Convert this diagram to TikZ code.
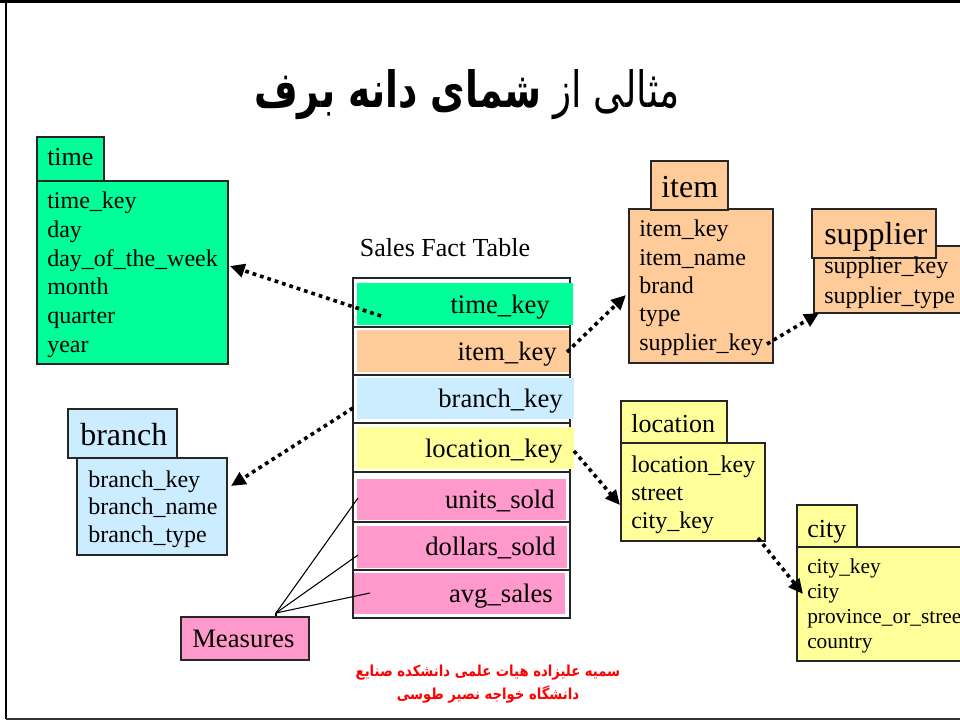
\documentclass[tikz,border=0pt]{standalone}
\usepackage{fontspec}
\setmainfont{Liberation Serif}
\newfontfamily\arabicfont[Script=Arabic]{DejaVu Sans}
\TeXXeTstate=1
\usetikzlibrary{arrows.meta,fit}
\definecolor{cgreen}{HTML}{00FF99}
\definecolor{cpeach}{HTML}{FFCC99}
\definecolor{cblue}{HTML}{CCECFF}
\definecolor{cyellow}{HTML}{FFFF99}
\definecolor{cpink}{HTML}{FF99CC}
\definecolor{cred}{HTML}{FF0000}
\tikzset{
  boxst/.style={draw=black!85, line width=1.1pt, inner sep=0pt},
  fillst/.style={inner sep=0pt, draw=none},
  hdrS/.style={anchor=base west, inner sep=0pt, font=\fontsize{19.5}{23}\selectfont},
  hdrL/.style={anchor=base west, inner sep=0pt, font=\fontsize{24}{28}\selectfont},
  fieldst/.style={anchor=base west, inner sep=0pt, font=\fontsize{18}{21.5}\selectfont},
  fieldsm/.style={anchor=base west, inner sep=0pt, font=\fontsize{16}{19}\selectfont},
  factst/.style={anchor=base east, inner sep=0pt, font=\fontsize{20}{24}\selectfont},
  link/.style={line width=2.7pt, dash pattern=on 2.8pt off 3pt, -{Triangle[length=11pt,width=10pt]}},
  mline/.style={line width=0.8pt, black}
}
\begin{document}
\begin{tikzpicture}[x=0.75pt,y=-0.75pt]
\useasboundingbox (0,0) rectangle (960,720);
\clip (0,0) rectangle (960,720);
% frame
\draw[line width=3pt] (0,1.5) -- (960,1.5);
\draw[line width=2pt] (6,0) -- (6,718.5);
\draw[line width=1.5pt, black!80] (6,718.5) -- (960,718.5);

% title
\node[font=\arabicfont\fontsize{30}{36}\selectfont, inner sep=0pt] (title) at (467,95) {\scalebox{0.94}[1.25]{\beginR مثالی از {\bfseries شمای دانه برف}\endR}};

% footer
\node[font=\arabicfont\bfseries\fontsize{9.9}{17}\selectfont, text=cred, align=center, inner sep=0pt] (footer) at (488,684) {\scalebox{1}[1.15]{\beginR سمیه علیزاده هیات علمی دانشکده صنایع\endR}\\\scalebox{1}[1.15]{\beginR دانشگاه خواجه نصیر طوسی\endR}};

% ---------- time ----------
\node[boxst, fill=cgreen, fit={(37,181)(228,364)}] (timeb) {};
\node[boxst, fill=cgreen, fit={(37,137)(104,181)}] (timet) {};
\node[hdrS] (timeh) at (47,166) {time};
\foreach \t [count=\i] in {time\_key,day,day\_of\_the\_week,month,quarter,year}
  \node[fieldst] (time\i) at (47,{209+(\i-1)*28.6}) {\t};

% ---------- item ----------
\node[boxst, fill=cpeach, fit={(629,209)(773,363)}] (itemb) {};
\node[boxst, fill=cpeach, fit={(651,161)(728,210)}] (itemt) {};
\node[hdrL] (itemh) at (661,198) {item};
\foreach \t [count=\i] in {item\_key,item\_name,brand,type,supplier\_key}
  \node[fieldst] (item\i) at (639,{237+(\i-1)*28.3}) {\t};

% ---------- supplier ----------
\node[boxst, fill=cpeach, fit={(814,246)(975,313)}] (supb) {};
\node[boxst, fill=cpeach, fit={(812,209)(936,258)}] (supt) {};
\node[hdrL] (suph) at (824,245) {supplier};
\foreach \t [count=\i] in {supplier\_key,supplier\_type}
  \node[fieldst] (sup\i) at (824,{274+(\i-1)*29}) {\t};

% ---------- branch ----------
\node[boxst, fill=cblue, fit={(77,458)(227,555)}] (branchb) {};
\node[boxst, fill=cblue, fit={(68,409)(177,458)}] (brancht) {};
\node[hdrL] (branchh) at (80,445) {branch};
\foreach \t [count=\i] in {branch\_key,branch\_name,branch\_type}
  \node[fieldst] (branch\i) at (88,{487+(\i-1)*27.5}) {\t};

% ---------- location ----------
\node[boxst, fill=cyellow, fit={(621,443)(765,541)}] (locb) {};
\node[boxst, fill=cyellow, fit={(621,401)(727,443)}] (loct) {};
\node[hdrS] (loch) at (631,432) {location};
\foreach \t [count=\i] in {location\_key,street,city\_key}
  \node[fieldst] (loc\i) at (631,{472+(\i-1)*28}) {\t};

% ---------- city ----------
\node[boxst, fill=cyellow, fit={(797,547)(975,661)}] (cityb) {};
\node[boxst, fill=cyellow, fit={(797,505)(857,547)}] (cityt) {};
\node[hdrS] (cityh) at (807,537) {city};
\foreach \t [count=\i] in {city\_key,city,province\_or\_street,country}
  \node[fieldsm] (city\i) at (807,{573+(\i-1)*25.2}) {\t};

% ---------- fact table ----------
\node[font=\fontsize{19.5}{23}\selectfont, anchor=base, inner sep=0pt] (facttitle) at (445,257) {Sales Fact Table};
\node[boxst, fit={(353,278)(570,327)}] (r1) {};
\node[boxst, fit={(353,327)(570,375)}] (r2) {};
\node[boxst, fit={(353,375)(570,423)}] (r3) {};
\node[boxst, fit={(353,423)(570,472)}] (r4) {};
\node[boxst, fit={(353,472)(570,522)}] (r5) {};
\node[boxst, fit={(353,522)(570,570)}] (r6) {};
\node[boxst, fit={(353,570)(570,618)}] (r7) {};
\node[fillst, fill=cgreen, fit={(357,283)(573,325)}] (f1) {};
\node[fillst, fill=cpeach, fit={(357,330)(569,372)}] (f2) {};
\node[fillst, fill=cblue, fit={(357,378)(574,419)}] (f3) {};
\node[fillst, fill=cyellow, fit={(357,427)(574,469)}] (f4) {};
\node[fillst, fill=cpink, fit={(357,479)(566,520)}] (f5) {};
\node[fillst, fill=cpink, fit={(357,526)(567,568)}] (f6) {};
\node[fillst, fill=cpink, fit={(354,573)(565,614)}] (f7) {};
\node[factst] (k1) at (550,313) {time\_key};
\node[factst] (k2) at (557,360) {item\_key};
\node[factst] (k3) at (563,407) {branch\_key};
\node[factst] (k4) at (563,457) {location\_key};
\node[factst] (k5) at (555,508) {units\_sold};
\node[factst] (k6) at (556,555) {dollars\_sold};
\node[factst] (k7) at (553,602) {avg\_sales};

% ---------- measures ----------
\node[boxst, fill=cpink, fit={(181,617)(309,660)}] (measb) {};
\node[anchor=base west, inner sep=0pt, font=\fontsize{20}{24}\selectfont] (meas) at (192,647) {Measures};
\coordinate (mc) at (276,613);
\coordinate (m5) at (358,498);
\coordinate (m6) at (358,555);
\coordinate (m7) at (370,593);
\draw[mline] (measb.north -| mc) -- (mc);
\draw[mline] (mc) -- (m5);
\draw[mline] (mc) -- (m6);
\draw[mline] (mc) -- (m7);

% ---------- links ----------
\coordinate (s1) at (381,316);  \coordinate (e1) at (230,266);
\coordinate (s2) at (567,352);  \coordinate (e2) at (626,295);
\coordinate (s3) at (767,344);  \coordinate (e3) at (819,313);
\coordinate (s4) at (353,408);  \coordinate (e4) at (231,486);
\coordinate (s5) at (574,451);  \coordinate (e5) at (620,505);
\coordinate (s6) at (758,538);  \coordinate (e6) at (803,594);
\draw[link] (s1) -- (e1);
\draw[link] (s2) -- (e2);
\draw[link] (s3) -- (e3);
\draw[link] (s4) -- (e4);
\draw[link] (s5) -- (e5);
\draw[link] (s6) -- (e6);
\end{tikzpicture}
\end{document}
